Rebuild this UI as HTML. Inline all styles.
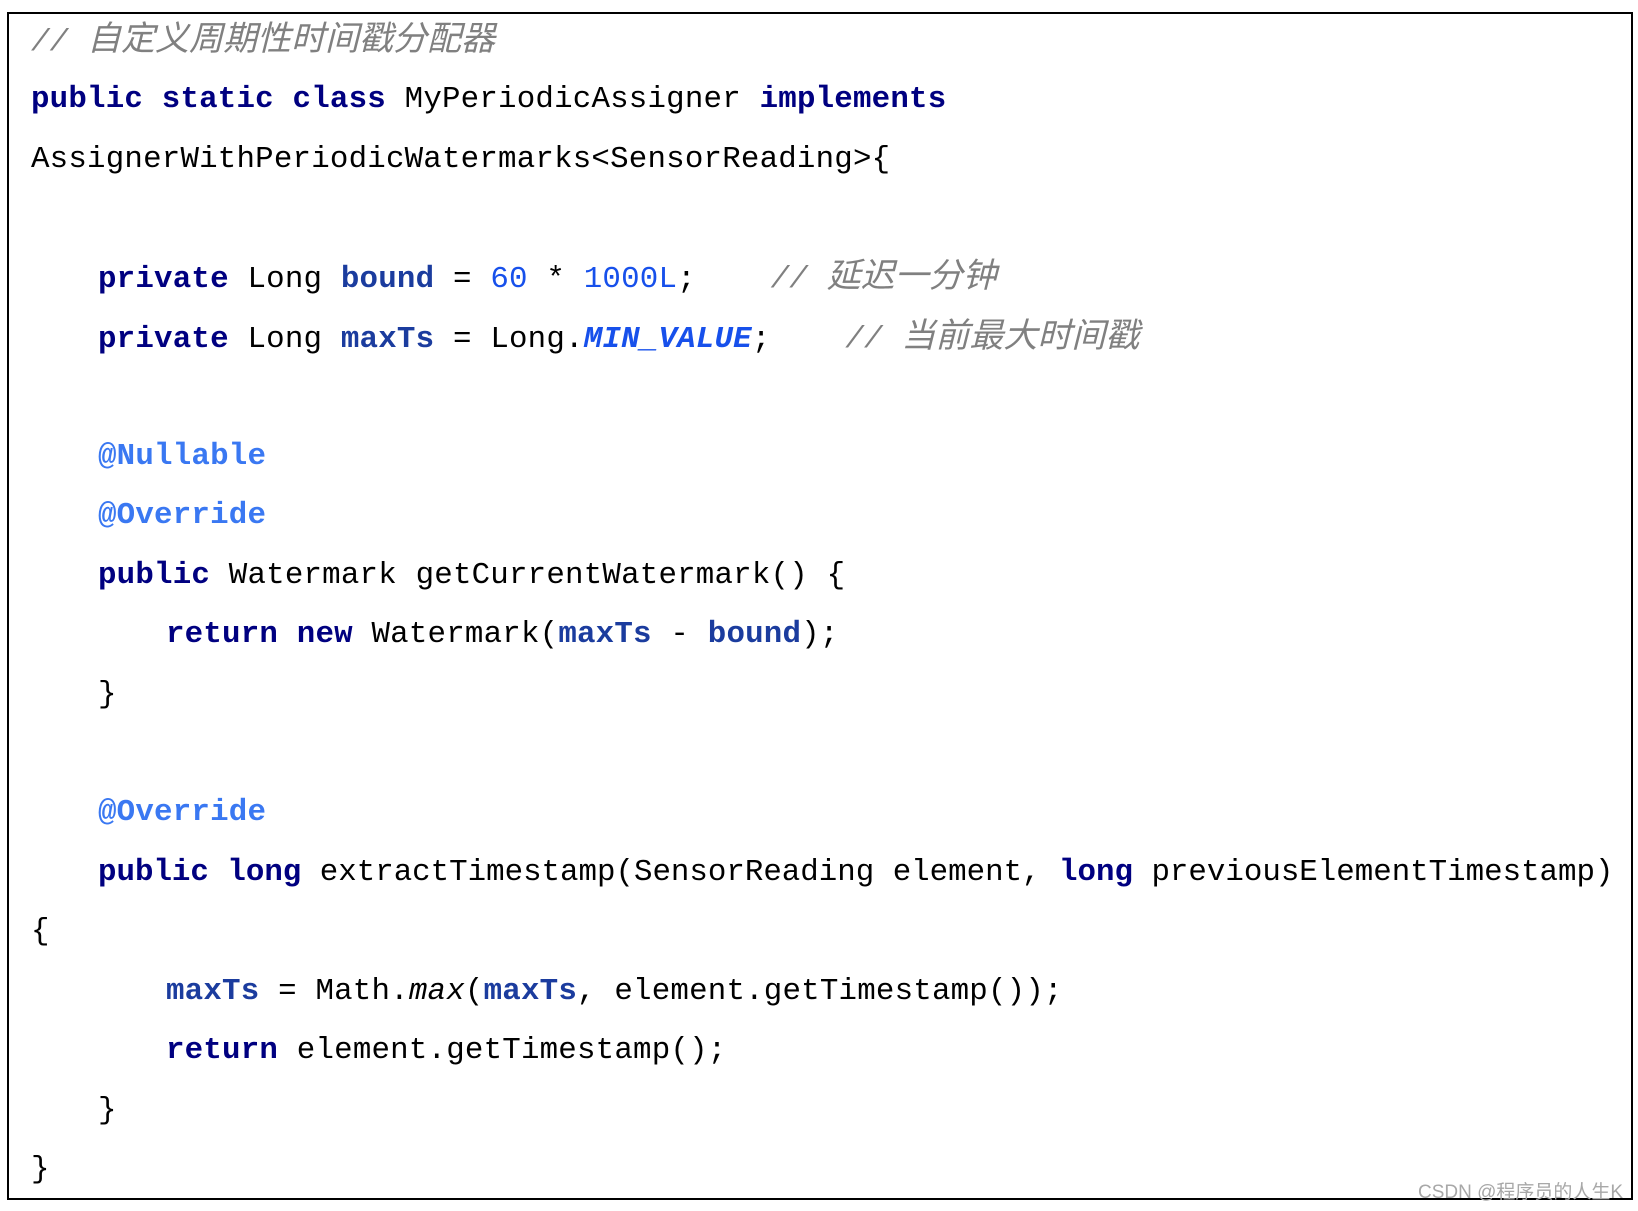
<!DOCTYPE html>
<html><head><meta charset="utf-8"><style>
html,body{margin:0;padding:0;background:#fff;}
body{width:1638px;height:1211px;position:relative;overflow:hidden;}
.box{position:absolute;left:7px;top:12px;width:1622px;height:1184px;border:2px solid #000;}
.l{position:absolute;white-space:pre;font-family:"Liberation Mono","Noto Sans CJK SC",monospace;font-size:30.8px;letter-spacing:0.2px;line-height:40px;color:#000;}
.k{color:#000080;font-weight:bold;}
.f{color:#1b3c9e;font-weight:bold;}
.n{color:#1750eb;}
.a{color:#3a78f2;font-weight:bold;}
.c{color:#808080;font-style:italic;font-family:"Liberation Mono","Noto Sans CJK SC",monospace;}
.cj{font-size:34px;letter-spacing:0;}
.i{font-style:italic;}
.wm{position:absolute;left:1418px;top:1177px;font-family:"Liberation Sans","Noto Sans CJK SC",sans-serif;font-size:19px;color:#a8a8a8;}
</style></head><body>
<div class="box"></div>
<div class="l c" style="left:31px;top:22px">// <span class="cj">自定义周期性时间戳分配器</span></div>
<div class="l" style="left:31px;top:80px"><span class="k">public static class</span> MyPeriodicAssigner <span class="k">implements</span></div>
<div class="l" style="left:31px;top:140px">AssignerWithPeriodicWatermarks&lt;SensorReading&gt;{</div>
<div class="l" style="left:98px;top:259px"><span class="k">private</span> Long <span class="f">bound</span> = <span class="n">60</span> * <span class="n">1000L</span>;    <span class="c">// <span class="cj">延迟一分钟</span></span></div>
<div class="l" style="left:98px;top:319px"><span class="k">private</span> Long <span class="f">maxTs</span> = Long.<span class="f i" style="color:#1750eb">MIN_VALUE</span>;    <span class="c">// <span class="cj">当前最大时间戳</span></span></div>
<div class="l a" style="left:98px;top:437px">@Nullable</div>
<div class="l a" style="left:98px;top:496px">@Override</div>
<div class="l" style="left:98px;top:556px"><span class="k">public</span> Watermark getCurrentWatermark() {</div>
<div class="l" style="left:166px;top:615px"><span class="k">return new</span> Watermark(<span class="f">maxTs</span> - <span class="f">bound</span>);</div>
<div class="l" style="left:98px;top:675px">}</div>
<div class="l a" style="left:98px;top:793px">@Override</div>
<div class="l" style="left:98px;top:853px;letter-spacing:0"><span class="k">public long</span> extractTimestamp(SensorReading element, <span class="k">long</span> previousElementTimestamp)</div>
<div class="l" style="left:31px;top:912px">{</div>
<div class="l" style="left:166px;top:972px"><span class="f">maxTs</span> = Math.<span class="i">max</span>(<span class="f">maxTs</span>, element.getTimestamp());</div>
<div class="l" style="left:166px;top:1031px"><span class="k">return</span> element.getTimestamp();</div>
<div class="l" style="left:98px;top:1091px">}</div>
<div class="l" style="left:31px;top:1150px">}</div>
<div class="wm">CSDN @程序员的人生K</div>
</body></html>
